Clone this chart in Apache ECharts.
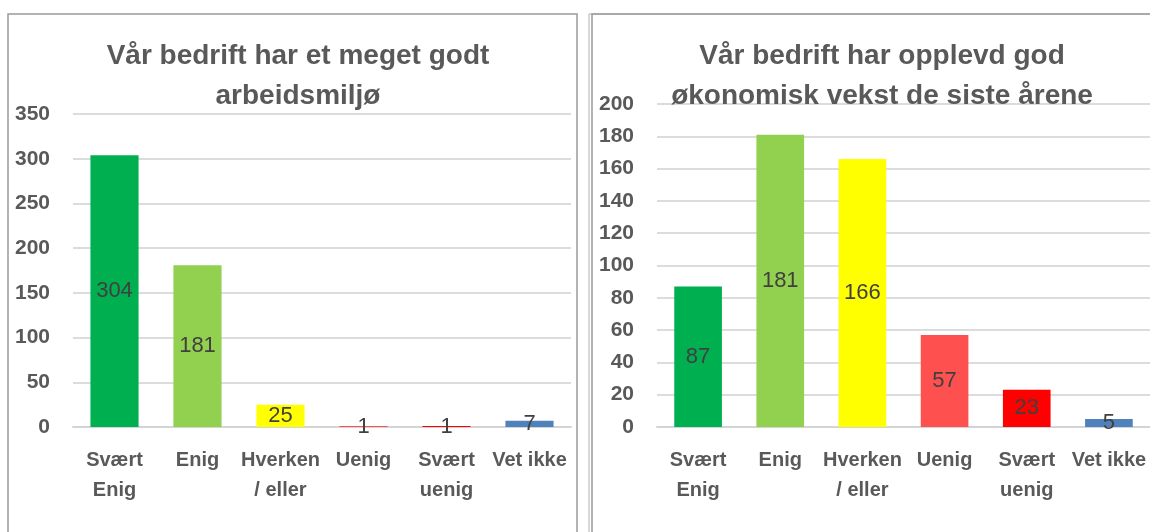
<!DOCTYPE html>
<html>
<head>
<meta charset="utf-8">
<script src="https://cdn.jsdelivr.net/npm/echarts@6/dist/echarts.min.js"></script>
<style>
  html, body { margin: 0; padding: 0; background: #fff; }
  #chart { width: 1150px; height: 532px; }
</style>
</head>
<body>
<div id="chart"></div>
<script>
// categories (same for both panels)
var categories = ["Svært\nEnig", "Enig", "Hverken\n/ eller", "Uenig", "Svært\nuenig", "Vet ikke"];
var barColors = ["#00B050", "#92D050", "#FFFF00", "#FF5050", "#FF0000", "#4F81BD"];

// left panel
var leftTitle = "Vår bedrift har et meget godt\narbeidsmiljø";
var arbeidsmiljoValues = [304, 181, 25, 1, 1, 7];
var leftMax = 350;
var leftStep = 50;

// right panel
var rightTitle = "Vår bedrift har opplevd god\nøkonomisk vekst de siste årene";
var vekstValues = [87, 181, 166, 57, 23, 5];
var rightMax = 200;
var rightStep = 20;

var fontFam = "'Liberation Sans', Arial, sans-serif";
var textGrey = "#595959";

var chart = echarts.init(document.getElementById("chart"));

function makeData(values) {
  var out = [];
  for (var i = 0; i < values.length; i++) {
    out.push({ value: values[i], itemStyle: { color: barColors[i] } });
  }
  return out;
}

function xAxisFor(idx) {
  return {
    type: "category",
    gridIndex: idx,
    data: categories,
    axisLine: { show: true, lineStyle: { color: "#d4d4d4", width: 2 } },
    axisTick: { show: false },
    axisLabel: {
      interval: 0,
      margin: 18,
      color: textGrey,
      fontFamily: fontFam,
      fontWeight: "bold",
      fontSize: 20,
      lineHeight: 30,
    },
  };
}

function yAxisFor(idx, max, step) {
  return {
    type: "value",
    gridIndex: idx,
    min: 0,
    max: max,
    interval: step,
    axisLine: { show: false },
    axisTick: { show: false },
    splitLine: { lineStyle: { color: "#dcdcdc", width: 2 } },
    axisLabel: {
      margin: 23,
      color: textGrey,
      fontFamily: fontFam,
      fontWeight: "bold",
      fontSize: 21,
    },
  };
}

function barSeries(idx, values) {
  return {
    type: "bar",
    xAxisIndex: idx,
    yAxisIndex: idx,
    barWidth: "58%",
    data: makeData(values),
    label: {
      show: true,
      position: "inside",
      color: "#404040",
      fontFamily: fontFam,
      fontSize: 22,
    },
  };
}

var titleStyle = {
  color: textGrey,
  fontFamily: fontFam,
  fontWeight: "bold",
  fontSize: 28,
  lineHeight: 40,
};

var option = {
  backgroundColor: "#ffffff",
  animation: false,
  title: [
    { text: leftTitle, left: 293, top: 31, textAlign: "center", textStyle: titleStyle },
    { text: rightTitle, left: 877, top: 31, textAlign: "center", textStyle: titleStyle },
  ],
  graphic: [
    {
      type: "rect",
      shape: { x: 8, y: 14, width: 569, height: 540 },
      style: { fill: "none", stroke: "#9a9a9a", lineWidth: 1.5 },
      z: 0,
    },
    {
      type: "rect",
      shape: { x: 589, y: 14, width: 580, height: 540 },
      style: { fill: "none", stroke: "#b0b0b0", lineWidth: 1 },
      z: 0,
    },
    {
      type: "rect",
      shape: { x: 592, y: 14, width: 580, height: 540 },
      style: { fill: "none", stroke: "#9a9a9a", lineWidth: 1.5 },
      z: 0,
    },
  ],
  grid: [
    { left: 73, top: 114, width: 498, height: 313 },
    { left: 657, top: 104, width: 496, height: 323 },
  ],
  xAxis: [xAxisFor(0), xAxisFor(1)],
  yAxis: [yAxisFor(0, leftMax, leftStep), yAxisFor(1, rightMax, rightStep)],
  series: [barSeries(0, arbeidsmiljoValues), barSeries(1, vekstValues)],
};

chart.setOption(option);
</script>
</body>
</html>
